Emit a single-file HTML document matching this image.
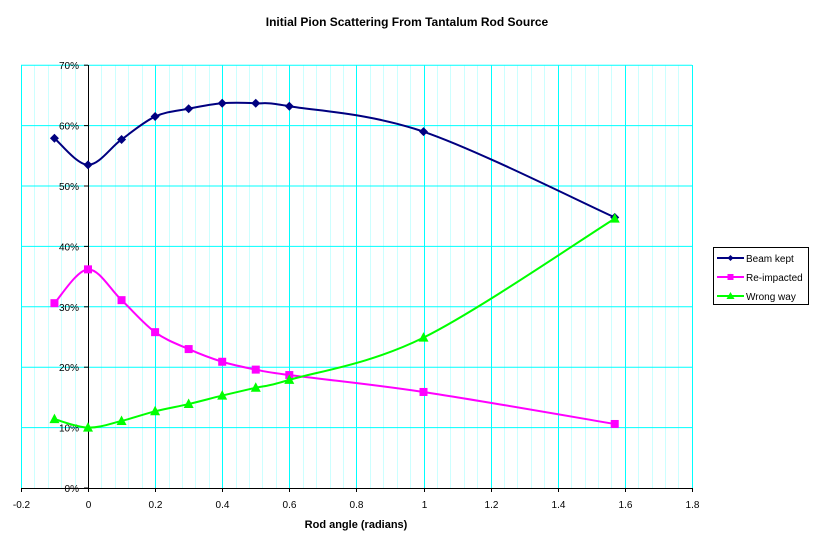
<!DOCTYPE html>
<html><head><meta charset="utf-8"><style>
body{margin:0;background:#fff;}
svg{display:block;font-family:"Liberation Sans",Arial,sans-serif;}
</style></head><body>
<svg id="s" width="815" height="548" xmlns="http://www.w3.org/2000/svg">
<rect width="815" height="548" fill="#fff"/>
<text x="407" y="26" font-size="12" font-weight="bold" text-anchor="middle">Initial Pion Scattering From Tantalum Rod Source</text>
<text x="356" y="528" font-size="11" font-weight="bold" text-anchor="middle">Rod angle (radians)</text>
<g id="g"></g>
<rect x="713.5" y="247.5" width="95" height="57" fill="#fff" stroke="#000"/>
<line x1="717" y1="258" x2="744" y2="258" stroke="#000080" stroke-width="2"/>
<path d="M730.5,255 L733.5,258 L730.5,261 L727.5,258Z" fill="#000080"/>
<text x="746" y="262" font-size="10">Beam kept</text>
<line x1="717" y1="277" x2="744" y2="277" stroke="#ff00ff" stroke-width="2"/>
<rect x="727.5" y="274" width="6" height="6" fill="#ff00ff"/>
<text x="746" y="281" font-size="10">Re-impacted</text>
<line x1="717" y1="296" x2="744" y2="296" stroke="#00ff00" stroke-width="2"/>
<path d="M730.5,292 L734.5,299 L726.5,299Z" fill="#00ff00"/>
<text x="746" y="300" font-size="10">Wrong way</text>
</svg>
<script>
const g=document.getElementById('g');let h='';
const X=v=>88+(v)*335.5, Y=p=>488-p*6.04;
for(let i=0;i<=50;i++){const v=-0.2+i*0.04;const x=Math.round(X(v))+0.5;
 const major=(i%5===0);
 if(!major)h+=`<line x1="${x}" y1="65" x2="${x}" y2="488" stroke="#ccffff" stroke-width="1"/>`;}
for(let i=0;i<=10;i++){const x=Math.round(X(-0.2+i*0.2))+0.5;h+=`<line x1="${x}" y1="65" x2="${x}" y2="488" stroke="#00ffff" stroke-width="1"/>`;}
for(let p=10;p<=70;p+=10){h+=`<line x1="21" y1="${Y(p)}" x2="692" y2="${Y(p)}" stroke="#00ffff"/>`;}
h+=`<line x1="88.5" y1="65" x2="88.5" y2="492" stroke="#000"/>`;
h+=`<line x1="21" y1="488.5" x2="692" y2="488.5" stroke="#000"/>`;
for(let p=0;p<=70;p+=10){h+=`<line x1="84" y1="${Y(p)}" x2="88" y2="${Y(p)}" stroke="#000"/><text x="79" y="${Y(p)+4}" font-size="10" text-anchor="end">${p}%</text>`;}
for(let i=0;i<=10;i++){const v=-0.2+i*0.2;const x=Math.round(X(v))+0.5;let l=(Math.round(v*10)/10).toString();
 h+=`<line x1="${x}" y1="488" x2="${x}" y2="492" stroke="#000"/><text x="${x}" y="508" font-size="10" text-anchor="middle">${l}</text>`;}
const xs=[-0.1,0,0.1,0.2,0.3,0.4,0.5,0.6,1.0,1.57];
const S=[["#000080",[57.9,53.5,57.7,61.5,62.8,63.7,63.7,63.2,59.0,44.8],'d'],
["#ff00ff",[30.6,36.2,31.1,25.8,23.0,20.9,19.6,18.7,15.9,10.6],'s'],
["#00ff00",[11.4,10.0,11.1,12.7,13.9,15.3,16.6,17.9,24.9,44.6],'t']];
for(const [c,ys,m] of S){const P=xs.map((x,i)=>[X(x),Y(ys[i])]);
 let d=`M${P[0][0]},${P[0][1]}`;
 for(let i=0;i<P.length-1;i++){const p0=P[Math.max(0,i-1)],p1=P[i],p2=P[i+1],p3=P[Math.min(P.length-1,i+2)];
  const t=1/6;d+=` C${p1[0]+(p2[0]-p0[0])*t},${p1[1]+(p2[1]-p0[1])*t} ${p2[0]-(p3[0]-p1[0])*t},${p2[1]-(p3[1]-p1[1])*t} ${p2[0]},${p2[1]}`;}
 h+=`<path d="${d}" fill="none" stroke="${c}" stroke-width="2"/>`;
 for(const [x,y] of P){
  if(m=='d')h+=`<path d="M${x},${y-4.5}L${x+4.5},${y}L${x},${y+4.5}L${x-4.5},${y}Z" fill="${c}"/>`;
  else if(m=='s')h+=`<rect x="${x-4}" y="${y-4}" width="8" height="8" fill="${c}"/>`;
  else h+=`<path d="M${x},${y-5.5}L${x+5},${y+4}L${x-5},${y+4}Z" fill="${c}"/>`;}
}
g.innerHTML=h;
</script>
</body></html>
